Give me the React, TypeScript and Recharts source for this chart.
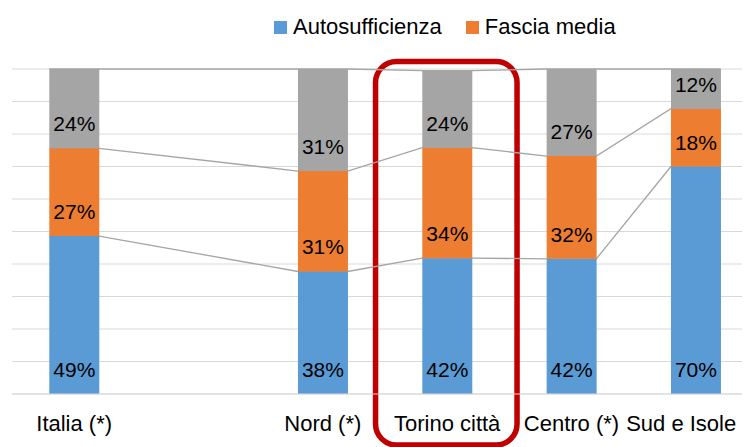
import React from 'react';
import {
  ComposedChart,
  Bar,
  Line,
  XAxis,
  YAxis,
  CartesianGrid,
  Legend,
  LabelList,
  ReferenceArea,
  Text,
} from 'recharts';

// categories (the empty one is the gap between Italia and Nord)
const categories = ['Italia (*)', '', 'Nord (*)', 'Torino città', 'Centro (*)', 'Sud e Isole (*)'];
const autosufficienza = [0.486, null, 0.377, 0.418, 0.416, 0.7];
const fasciaMedia = [0.27, null, 0.309, 0.34, 0.316, 0.178];
const altro = [0.244, null, 0.314, 0.237, 0.268, 0.122];
const yTicks = [0, 0.1, 0.2, 0.3, 0.4, 0.5, 0.6, 0.7, 0.8, 0.9, 1];
const legendNames = ['Autosufficienza', 'Fascia media'];

// highlight frame around "Torino città" (x in category units, y in share)
const frameX = [2.924, 4.062];
const frameY = [-0.157, 1.023];

const BLUE = '#5B9BD5';
const ORANGE = '#ED7D31';
const GRAY = '#A5A5A5';
const FONT = '"Liberation Sans", Arial, sans-serif';

const CHART_W = 754;
const CHART_H = 470;
const MARGIN = { top: 61, right: 4, bottom: 0, left: 4 };
const CAT_GAP = 0.3; // barCategoryGap as a fraction of the band
const HALF_BAR = (1 - 2 * CAT_GAP) / 2;
const BAND = (CHART_W - MARGIN.left - MARGIN.right) / categories.length;

const data = categories.map((name, i) => ({
  name,
  auto: autosufficienza[i],
  media: fasciaMedia[i],
  altro: altro[i],
}));

// Excel-style series lines: run along the top of each stacked segment,
// from the right edge of one bar to the left edge of the next one
const seriesLine = (parts: (number | null)[][]) => {
  const pts: { x: number; y: number }[] = [];
  categories.forEach((_, i) => {
    if (parts[0][i] == null) return;
    const cum = parts.reduce((s, p) => s + (p[i] as number), 0);
    pts.push({ x: i + 0.5 - HALF_BAR, y: cum });
    pts.push({ x: i + 0.5 + HALF_BAR, y: cum });
  });
  return pts;
};

const line1 = seriesLine([autosufficienza]);
const line2 = seriesLine([autosufficienza, fasciaMedia]);
const line3 = seriesLine([autosufficienza, fasciaMedia, altro]);

const pct = (v: any) => (v == null ? '' : `${Math.round(v * 100)}%`);

const CategoryTick = (props: any) => {
  const { x, y, payload } = props;
  return (
    <Text
      x={x}
      y={y + 21}
      width={BAND}
      textAnchor="middle"
      verticalAnchor="start"
      lineHeight="1.15em"
      fill="#000"
      style={{ fontFamily: FONT, fontSize: 22 }}
    >
      {payload.value}
    </Text>
  );
};

const LegendContent = (props: any) => {
  const items = (props.payload || []).filter((e: any) => legendNames.includes(e.value));
  items.sort((a: any, b: any) => legendNames.indexOf(a.value) - legendNames.indexOf(b.value));
  return (
    <div style={{ display: 'flex', alignItems: 'center', height: 24, fontFamily: FONT, fontSize: 22, color: '#000', whiteSpace: 'nowrap' }}>
      {items.map((entry: any) => (
        <span key={entry.value} style={{ display: 'inline-flex', alignItems: 'center', marginRight: 24 }}>
          <span style={{ width: 13, height: 13, background: entry.color, marginRight: 6, display: 'inline-block' }} />
          {entry.value}
        </span>
      ))}
    </div>
  );
};

const RedFrame = (props: any) => {
  const { x, y, width, height } = props;
  return <rect x={x} y={y} width={width} height={height} rx={21} ry={21} fill="none" stroke="#C00000" strokeWidth={5.5} />;
};

const labelProps = { position: 'insideBottom' as const, offset: 17, fill: '#000', fontSize: 21, fontFamily: FONT, formatter: pct };

export default function App() {
  return (
    <div style={{ width: 742, height: 439, overflow: 'hidden', position: 'relative' }}>
      <ComposedChart width={CHART_W} height={CHART_H} data={data} margin={MARGIN} barCategoryGap="30%">
        <CartesianGrid vertical={false} stroke="#D9D9D9" strokeWidth={1.2} />
        <XAxis
          dataKey="name"
          interval={0}
          height={CHART_H - 386}
          tickLine={false}
          tickSize={0}
          tickMargin={0}
          axisLine={{ stroke: '#D9D9D9', strokeWidth: 1.2 }}
          tick={<CategoryTick />}
        />
        <XAxis xAxisId="num" type="number" dataKey="x" domain={[0, categories.length]} allowDataOverflow hide />
        <YAxis domain={[0, 1]} ticks={yTicks} hide />
        <Legend verticalAlign="middle" align="center" content={<LegendContent />} wrapperStyle={{ top: 7, left: 266, width: 'auto' }} />

        <Line xAxisId="num" data={line1} dataKey="y" stroke={GRAY} strokeWidth={1.3} dot={false} legendType="none" isAnimationActive={false} zIndex={150} />
        <Line xAxisId="num" data={line2} dataKey="y" stroke={GRAY} strokeWidth={1.3} dot={false} legendType="none" isAnimationActive={false} zIndex={150} />
        <Line xAxisId="num" data={line3} dataKey="y" stroke={GRAY} strokeWidth={1.3} dot={false} legendType="none" isAnimationActive={false} zIndex={150} />

        <Bar dataKey="auto" name="Autosufficienza" stackId="a" fill={BLUE} isAnimationActive={false}>
          <LabelList dataKey="auto" {...labelProps} />
        </Bar>
        <Bar dataKey="media" name="Fascia media" stackId="a" fill={ORANGE} isAnimationActive={false}>
          <LabelList dataKey="media" {...labelProps} />
        </Bar>
        <Bar dataKey="altro" name="Altro" stackId="a" fill={GRAY} legendType="none" isAnimationActive={false}>
          <LabelList dataKey="altro" {...labelProps} />
        </Bar>

        <ReferenceArea
          xAxisId="num"
          x1={frameX[0]}
          x2={frameX[1]}
          y1={frameY[0]}
          y2={frameY[1]}
          ifOverflow="visible"
          shape={<RedFrame />}
        />
      </ComposedChart>
    </div>
  );
}
